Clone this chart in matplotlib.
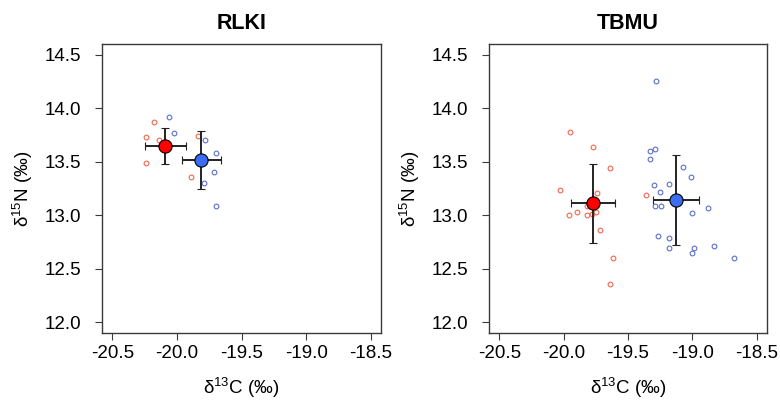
import matplotlib
matplotlib.use("Agg")
from matplotlib import pyplot as plt

plt.rcParams['font.family'] = ['Liberation Sans', 'DejaVu Sans']
plt.rcParams['mathtext.fontset'] = 'custom'
plt.rcParams['mathtext.rm'] = 'Liberation Sans'
plt.rcParams['mathtext.it'] = 'Liberation Sans:italic'
plt.rcParams['axes.unicode_minus'] = False

# --- data ------------------------------------------------------------------
panels = ["RLKI", "TBMU"]

rlki_red_x = [-20.18, -20.24, -20.14, -20.24, -19.84, -19.89]
rlki_red_y = [13.87, 13.73, 13.70, 13.49, 13.74, 13.36]
rlki_blue_x = [-20.06, -20.02, -19.78, -19.70, -19.71, -19.79, -19.70]
rlki_blue_y = [13.92, 13.77, 13.70, 13.58, 13.40, 13.30, 13.09]

tbmu_red_x = [-19.95, -19.77, -19.64, -20.03, -19.74, -19.36, -19.82, -19.90,
              -19.96, -19.82, -19.78, -19.75, -19.72, -19.62, -19.64]
tbmu_red_y = [13.78, 13.64, 13.44, 13.24, 13.21, 13.19, 13.09, 13.03,
              13.00, 13.00, 13.01, 13.03, 12.86, 12.60, 12.36]
tbmu_blue_x = [-19.28, -19.33, -19.29, -19.33, -19.07, -19.01, -19.18, -19.30,
               -19.25, -19.29, -19.24, -18.88, -19.00, -19.27, -19.18, -19.18,
               -18.99, -19.00, -18.83, -18.68]
tbmu_blue_y = [14.25, 13.60, 13.62, 13.53, 13.45, 13.36, 13.29, 13.28,
               13.22, 13.09, 13.09, 13.07, 13.02, 12.81, 12.79, 12.69,
               12.69, 12.65, 12.71, 12.60]

# group means and SDs (red, blue) per panel
mean_x = [[-20.09, -19.81], [-19.77, -19.13]]
mean_y = [[13.65, 13.52], [13.11, 13.14]]
sd_x = [[0.157, 0.150], [0.171, 0.178]]
sd_y = [[0.169, 0.270], [0.366, 0.420]]

x_ticks = [-20.5, -20.0, -19.5, -19.0, -18.5]
y_ticks = [12.0, 12.5, 13.0, 13.5, 14.0, 14.5]

points = [
    [(rlki_red_x, rlki_red_y), (rlki_blue_x, rlki_blue_y)],
    [(tbmu_red_x, tbmu_red_y), (tbmu_blue_x, tbmu_blue_y)],
]

small_cols = ["#F4674F", "#5B6FCE"]
mean_cols = ["#FF0000", "#3B6CF2"]
box_col = "#3a3a3a"

fig = plt.figure(figsize=(7.8, 4), dpi=100)
positions = [[102 / 780, 67 / 400, 279 / 780, 289 / 400],
             [489 / 780, 67 / 400, 278 / 780, 289 / 400]]

for i, name in enumerate(panels):
    ax = fig.add_axes(positions[i])
    for g in range(2):
        xs, ys = points[i][g]
        ax.plot(xs, ys, 'o', mfc='none', mec=small_cols[g], ms=3.4, mew=0.8,
                zorder=2)
    for g in range(2):
        ax.errorbar(mean_x[i][g], mean_y[i][g], xerr=sd_x[i][g], yerr=sd_y[i][g],
                    fmt='o', ms=9.5, mfc=mean_cols[g], mec='black', mew=0.8,
                    ecolor='#222222', elinewidth=1.4, capsize=3, capthick=1.4,
                    zorder=3)
    ax.set_xlim(-20.58, -18.42)
    ax.set_ylim(11.9, 14.6)
    ax.set_xticks(x_ticks)
    ax.set_xticklabels([f"{v:.1f}" for v in x_ticks])
    ax.set_yticks(y_ticks)
    ax.set_yticklabels([f"{v:.1f}" for v in y_ticks])
    ax.tick_params(axis='both', direction='out', length=5, width=0.8,
                   color=box_col, labelsize=13.5)
    ax.tick_params(axis='x', pad=3.5)
    ax.tick_params(axis='y', pad=10)
    for s in ax.spines.values():
        s.set_color(box_col)
        s.set_linewidth(1.0)
    ax.set_title(name, fontsize=15.5, fontweight='bold', pad=11)
    ax.set_xlabel('δ$^{13}$C (‰)', fontsize=13.5, labelpad=10)
    ax.set_ylabel('δ$^{15}$N (‰)', fontsize=13.5, labelpad=7)

fig.savefig("out.png", dpi=100)
